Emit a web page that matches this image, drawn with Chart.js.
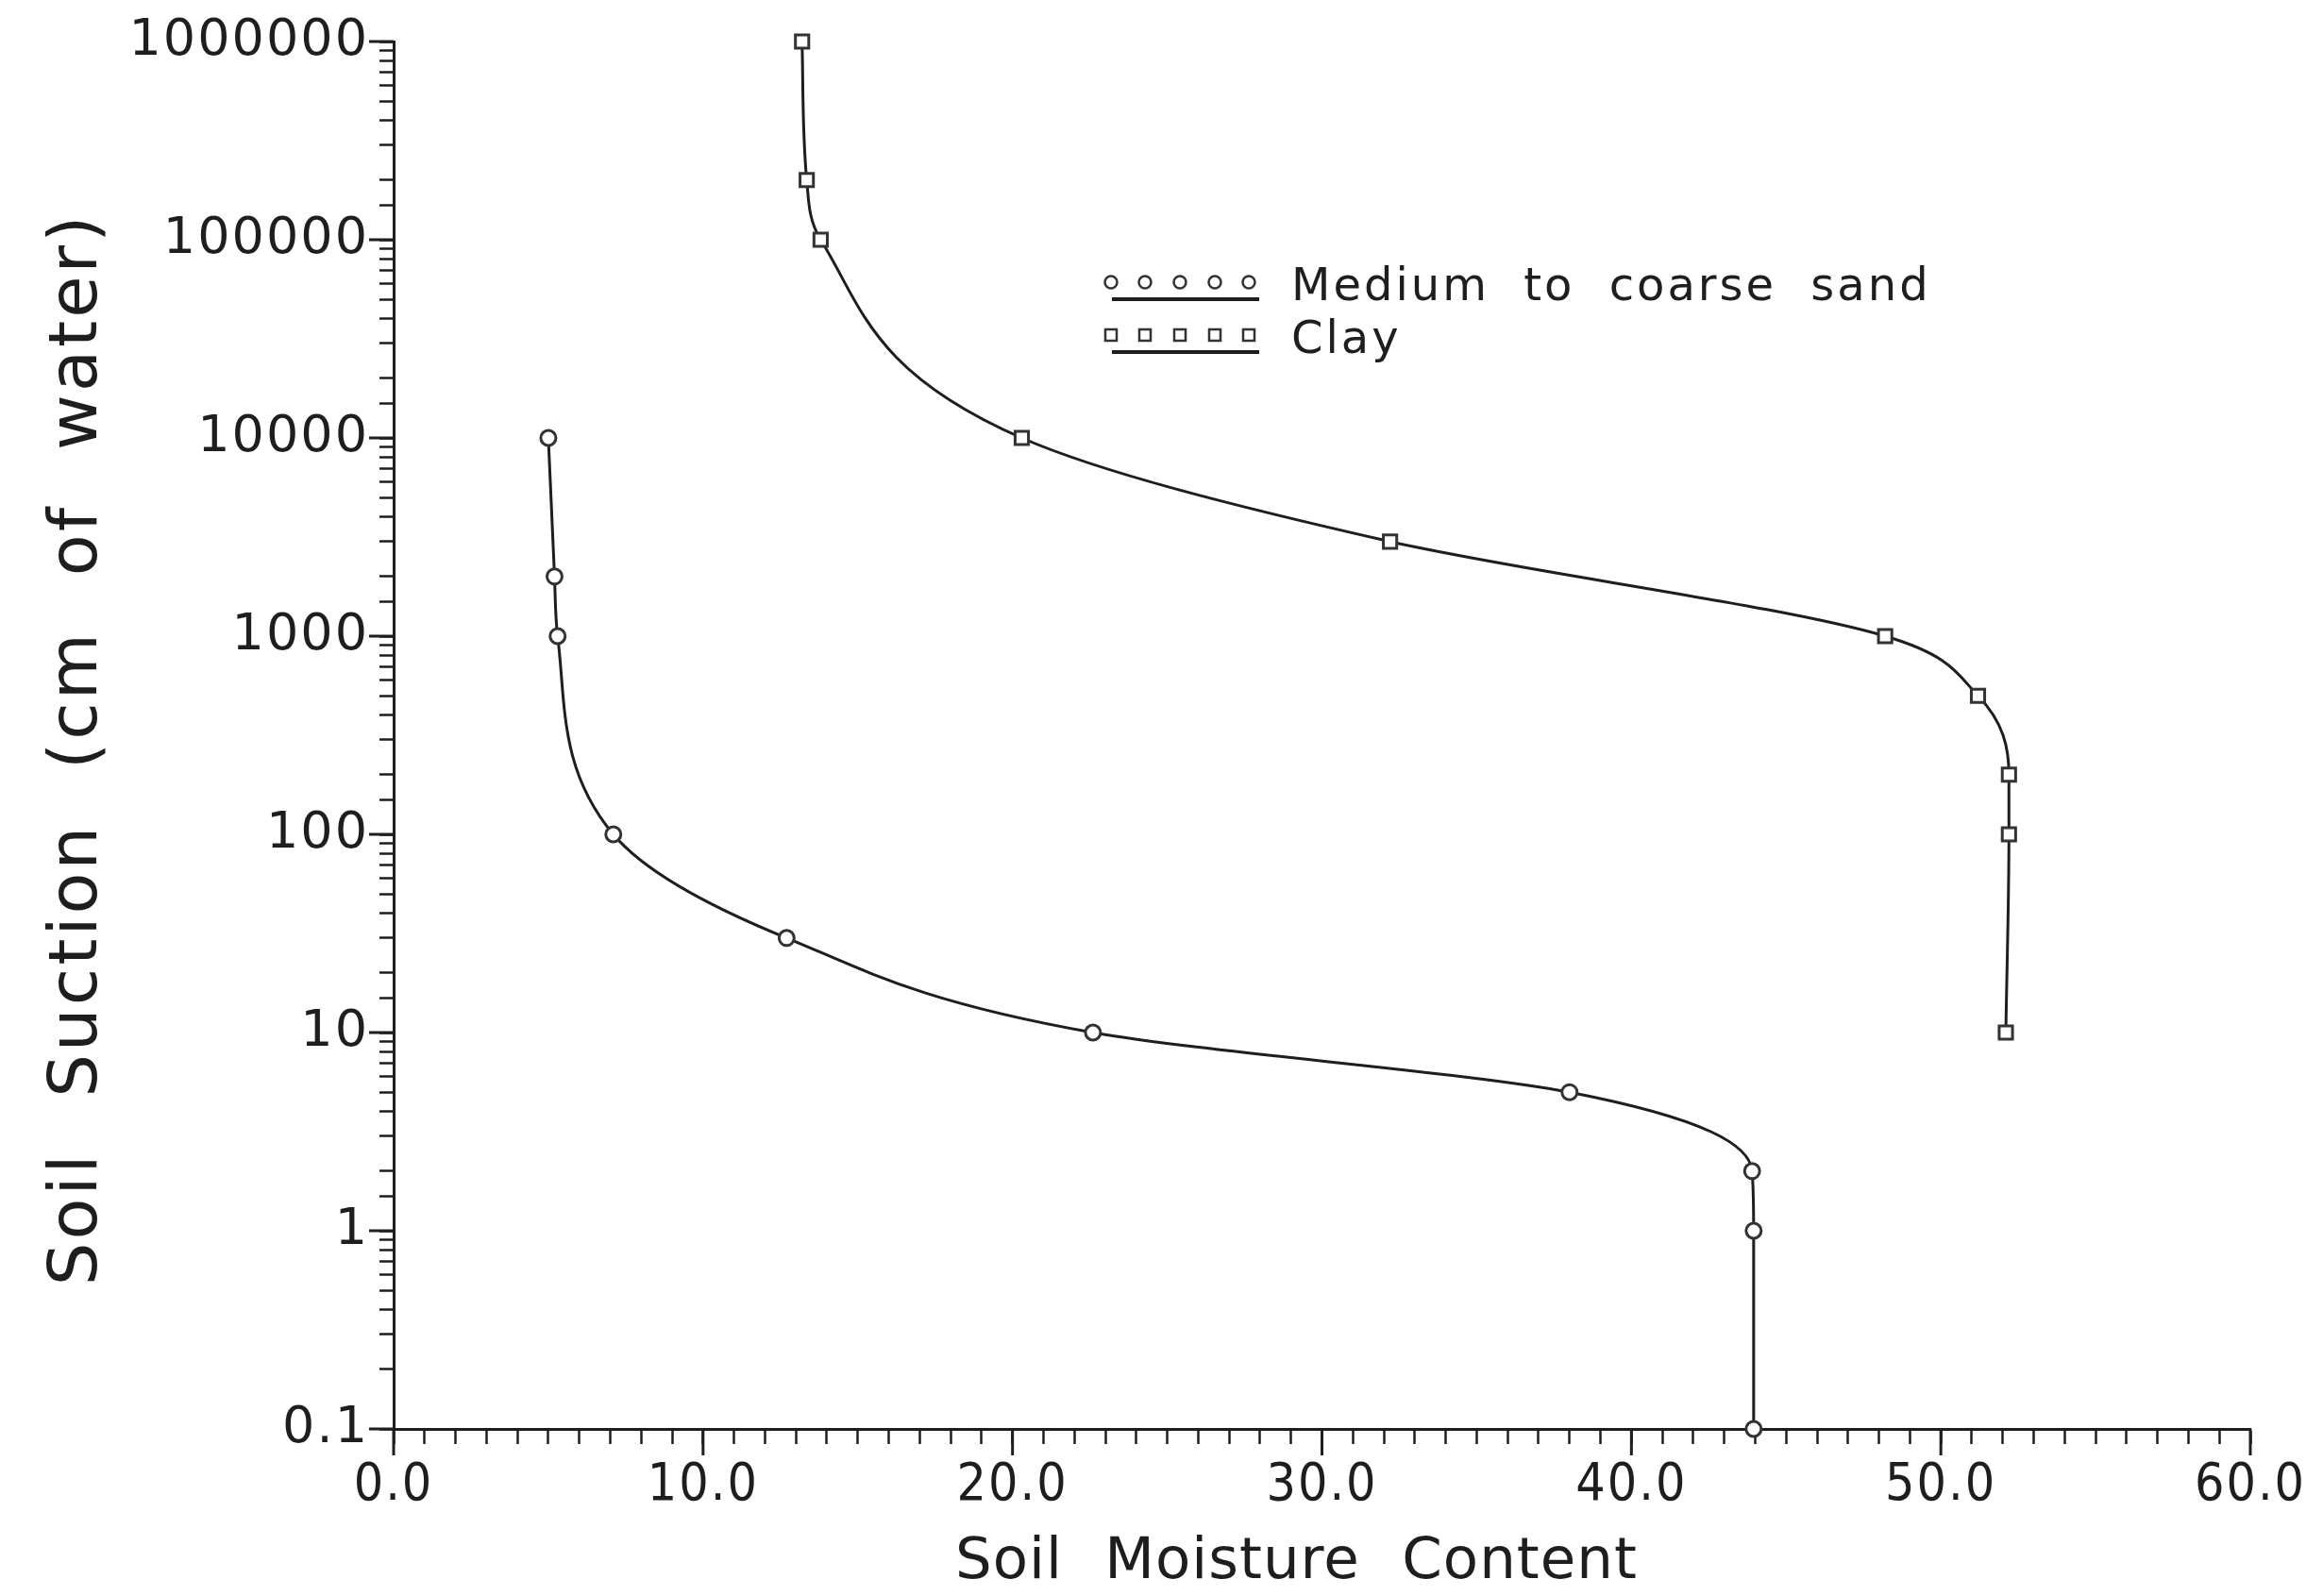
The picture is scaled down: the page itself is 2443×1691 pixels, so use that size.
<!DOCTYPE html>
<html>
<head>
<meta charset="utf-8">
<script src="https://cdn.jsdelivr.net/npm/chart.js@4.4.1/dist/chart.umd.min.js"></script>
<style>
  html, body { margin:0; padding:0; background:#fff; }
  #wrap { width:2443px; height:1691px; position:relative; }
</style>
</head>
<body>
<div id="wrap"><canvas id="c"></canvas></div>
<script>
// Soil water retention curves

const sandMoisture = [5.0, 5.2, 5.3, 7.1, 12.7, 22.6, 38.0, 43.9, 43.95, 43.95];
const sandSuction  = [10000, 2000, 1000, 100, 30, 10, 5, 2, 1, 0.1];

const clayMoisture = [13.2, 13.35, 13.8, 20.3, 32.2, 48.2, 51.2, 52.2, 52.2, 52.1];
const claySuction  = [1000000, 200000, 100000, 10000, 3000, 1000, 500, 200, 100, 10];

const seriesNames = ['Medium to coarse sand', 'Clay'];
const xTitle = 'Soil Moisture Content';
const yTitle = 'Soil Suction (cm of water)';

const INK = '#1e1e1e';

function pts(xs, ys) { return xs.map((x, i) => ({x, y: ys[i]})); }
function isDecade(v) { const l = Math.log10(v); return Math.abs(l - Math.round(l)) < 1e-9; }

// wider tick lettering, longer major ticks, legend and axis titles
const extras = {
  id: 'extras',
  beforeDraw(chart) { chart.ctx.letterSpacing = '2px'; },
  afterDraw(chart) {
    const ctx = chart.ctx, xs = chart.scales.x, ys = chart.scales.y;
    const a = chart.chartArea;
    ctx.save();
    ctx.strokeStyle = INK; ctx.lineWidth = 3;
    ys.ticks.forEach(t => {
      if (!isDecade(t.value)) return;
      const y = ys.getPixelForValue(t.value);
      ctx.beginPath(); ctx.moveTo(a.left - 26, y); ctx.lineTo(a.left, y); ctx.stroke();
    });
    xs.ticks.forEach(t => {
      if (t.value % 10 !== 0) return;
      const x = xs.getPixelForValue(t.value);
      ctx.beginPath(); ctx.moveTo(x, a.bottom); ctx.lineTo(x, a.bottom + 28); ctx.stroke();
    });

    // legend
    const rows = [299, 355];
    const mx = [1177, 1213, 1250, 1287, 1323];
    chart.data.datasets.forEach((ds, i) => {
      const ry = rows[i];
      ctx.strokeStyle = ds.borderColor; ctx.lineWidth = 4;
      ctx.beginPath(); ctx.moveTo(1178, ry + 18); ctx.lineTo(1334, ry + 18); ctx.stroke();
      ctx.fillStyle = '#fff'; ctx.strokeStyle = ds.pointBorderColor; ctx.lineWidth = 2.5;
      mx.forEach(x => Chart.helpers.drawPoint(ctx, {pointStyle: ds.pointStyle, radius: ds.pointStyle === 'rect' ? 8.5 : 6.5, rotation: 0, borderWidth: 2.5}, x, ry));
      ctx.fillStyle = INK;
      ctx.font = '48px "DejaVu Sans", sans-serif';
      ctx.letterSpacing = '3px'; ctx.wordSpacing = '18px';
      ctx.textAlign = 'left'; ctx.textBaseline = 'alphabetic';
      ctx.fillText(ds.label, 1368, ry + 19);
    });

    // axis titles
    ctx.fillStyle = INK;
    ctx.font = '61px "DejaVu Sans", sans-serif';
    ctx.letterSpacing = '1px'; ctx.wordSpacing = '24px';
    ctx.textAlign = 'left';
    ctx.fillText(xTitle, 1012, 1672);

    ctx.font = '72px "DejaVu Sans", sans-serif';
    ctx.letterSpacing = '3px'; ctx.wordSpacing = '32px';
    ctx.translate(102, 794); ctx.rotate(-Math.PI / 2);
    ctx.textAlign = 'center';
    ctx.fillText(yTitle, 0, 0);
    ctx.restore();
  }
};

const lineStyle = {showLine: true, borderColor: INK, borderWidth: 3, cubicInterpolationMode: 'monotone',
  pointBorderWidth: 3, pointBackgroundColor: '#fff', pointBorderColor: '#333', clip: false, fill: false};

new Chart(document.getElementById('c'), {
  type: 'line',
  data: {
    datasets: [
      {label: seriesNames[0], data: pts(sandMoisture, sandSuction), pointStyle: 'circle', pointRadius: 8, ...lineStyle},
      {label: seriesNames[1], data: pts(clayMoisture, claySuction), pointStyle: 'rect', pointRadius: 10, ...lineStyle}
    ]
  },
  options: {
    indexAxis: 'y',
    responsive: true, maintainAspectRatio: false, animation: false, devicePixelRatio: 1,
    layout: {padding: {top: 44, right: 59, left: 0, bottom: 0}},
    plugins: {legend: {display: false}, tooltip: {enabled: false}},
    scales: {
      x: {
        type: 'linear', position: 'bottom', min: 0, max: 60,
        afterFit: s => { s.height = 177; s.paddingLeft = 0; s.paddingRight = 0; },
        border: {display: true, color: INK, width: 3},
        grid: {drawOnChartArea: false, drawTicks: true, tickLength: 16, tickWidth: 2.5, tickColor: INK},
        ticks: {stepSize: 1, autoSkip: false, maxRotation: 0, padding: 12, color: INK,
                font: {family: '"Liberation Sans Narrow", "DejaVu Sans Condensed", "DejaVu Sans", sans-serif', size: 55},
                callback: v => v % 10 === 0 ? v.toFixed(1) : ''}
      },
      y: {
        type: 'logarithmic', position: 'left', min: 0.1, max: 1000000,
        afterFit: s => { s.width = 417; s.paddingTop = 0; s.paddingBottom = 0; },
        border: {display: true, color: INK, width: 3},
        grid: {drawOnChartArea: false, drawTicks: true, tickLength: 15, tickWidth: 2.5, tickColor: INK},
        ticks: {autoSkip: false, padding: 11, color: INK,
                font: {family: '"DejaVu Sans", sans-serif', size: 54},
                callback: v => isDecade(v) ? (v >= 1 ? String(Math.round(v)) : String(v)) : ''}
      }
    }
  },
  plugins: [extras]
});
</script>
</body>
</html>
